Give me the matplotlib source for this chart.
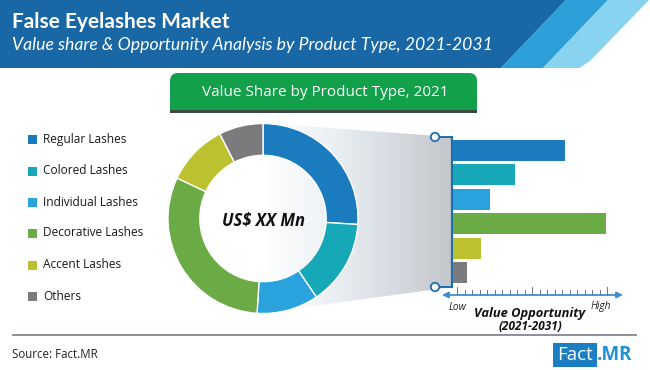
import numpy as np
import matplotlib
matplotlib.use("Agg")
import matplotlib.pyplot as plt
from matplotlib.patches import Polygon, Rectangle, FancyBboxPatch, Circle
from matplotlib.colors import LinearSegmentedColormap

# ---------------- data ----------------
categories = ["Regular Lashes", "Colored Lashes", "Individual Lashes",
              "Decorative Lashes", "Accent Lashes", "Others"]
value_share_2021 = [26.0, 14.5, 10.5, 31.0, 10.5, 7.5]        # % share (donut)
value_opportunity = [112, 62, 37, 153, 28, 14]                 # relative opportunity (bars)
colors = ["#1b7bbf", "#16a8b6", "#2aa2de", "#6aab45", "#bcc22f", "#7b7a7c"]

title = "False Eyelashes Market"
subtitle = "Value share & Opportunity Analysis by Product Type, 2021-2031"
banner = "Value Share by Product Type, 2021"
center_label = "US$ XX Mn"
source = "Source: Fact.MR"

W, H = 650, 370
fig = plt.figure(figsize=(W / 100, H / 100), dpi=100)
fig.patch.set_facecolor("white")

def fx(x):
    return x / W

def fy(y):
    return 1 - y / H

# ------------- background / decoration axes (pixel coords) -------------
ax0 = fig.add_axes([0, 0, 1, 1])
ax0.set_xlim(0, W)
ax0.set_ylim(H, 0)
ax0.axis("off")

# header
ax0.add_patch(Polygon([(0, 0), (566, 0), (501, 68), (0, 68)], closed=True,
                      facecolor="#1967a4", edgecolor="none"))
ax0.add_patch(Polygon([(566, 0), (608, 0), (543, 68), (501, 68)], closed=True,
                      facecolor="#2c9fd8", edgecolor="none"))
ax0.add_patch(Polygon([(608, 0), (649, 0), (590, 61), (579, 68), (543, 68)], closed=True,
                      facecolor="#87d3f0", edgecolor="none"))
ax0.text(12, 28, title, color="white", fontsize=15, fontweight="bold",
         family=["Lato", "DejaVu Sans"], va="baseline", ha="left")
ax0.text(12, 50, subtitle, color="white", fontsize=12.7, style="italic", fontweight="normal",
         family=["Lato", "DejaVu Sans"], va="baseline", ha="left")

# green banner
ax0.add_patch(Rectangle((170, 108), 307, 5, facecolor="#3f4944", edgecolor="none"))
ax0.add_patch(FancyBboxPatch((170, 73), 307, 37, boxstyle="round,pad=0,rounding_size=8",
                             facecolor="#13a04a", edgecolor="none"))
ax0.add_patch(Rectangle((170, 95), 307, 15, facecolor="#13a04a", edgecolor="none"))
ax0.text(325, 92, banner, color="white", fontsize=11,
         family=["Open Sans", "DejaVu Sans"], ha="center", va="center")

# gradient connector (donut -> bars)
poly = Polygon([(263, 123), (452, 137), (452, 287), (263, 313)], closed=True,
               facecolor="none", edgecolor="none")
ax0.add_patch(poly)
cmap = LinearSegmentedColormap.from_list("g", ["#ffffff", "#eef2f6", "#d8dde3", "#c3c6ca"])
grad = np.tile(np.linspace(0, 1, 256), (10, 1))
im = ax0.imshow(grad, cmap=cmap, extent=[263, 452, 313, 123], aspect="auto",
                interpolation="bilinear", zorder=1)
im.set_clip_path(poly)
ax0.set_xlim(0, W)
ax0.set_ylim(H, 0)

# connector line + circles
line_c = "#1f6fae"
ax0.plot([452, 452], [137, 287], color=line_c, lw=1.6, zorder=3)
ax0.plot([439, 452], [137, 137], color=line_c, lw=1.4, zorder=3)
ax0.plot([439, 452], [287, 287], color=line_c, lw=1.4, zorder=3)
for yy in (137, 287):
    ax0.add_patch(Circle((435, yy), 4.2, facecolor="white", edgecolor=line_c, lw=1.3, zorder=4))

# legend
leg_y = [139, 171, 202, 233, 265, 296]
for c, lab, yy in zip(colors, categories, leg_y):
    ax0.add_patch(Rectangle((27.5, yy - 4.5), 9.5, 9.5, facecolor=c, edgecolor="none"))
    ax0.text(43, yy, lab, fontsize=8.6, color="#1a1a1a",
             family=["Open Sans", "DejaVu Sans"], ha="left", va="center")

# value opportunity axis
ax_c = "#3b8fd0"
ax0.annotate("", xy=(623, 295), xytext=(442, 295),
             arrowprops=dict(arrowstyle="<|-|>", color=ax_c, lw=1.3,
                             mutation_scale=9, shrinkA=0, shrinkB=0))
ticks = np.linspace(457, 607, 21)
for i, tx in enumerate(ticks):
    top = 287 if i % 10 == 0 else 290
    ax0.plot([tx, tx], [top, 295], color="#6d7580", lw=0.7)
ax0.text(458, 307, "Low", fontsize=7.3, style="italic", color="#222222",
         family=["Open Sans", "DejaVu Sans"], ha="center", va="center")
ax0.text(601, 307, "High", fontsize=7.3, style="italic", color="#222222",
         family=["Open Sans", "DejaVu Sans"], ha="center", va="center")
ax0.text(530, 314, "Value Opportunity", fontsize=9.3, style="italic", fontweight="bold",
         color="#111111", family=["Open Sans", "DejaVu Sans"], ha="center", va="center")
ax0.text(530, 327, "(2021-2031)", fontsize=8.5, style="italic", fontweight="bold",
         color="#111111", family=["Open Sans", "DejaVu Sans"], ha="center", va="center")

# bottom rule, source, logo
ax0.plot([13, 636], [334.5, 334.5], color="#8a9096", lw=1.4)
ax0.text(12, 355, source, fontsize=8.3, color="#222222",
         family=["Open Sans", "DejaVu Sans"], ha="left", va="center")
ax0.add_patch(Rectangle((553, 343), 44, 24, facecolor="#1b7ec2", edgecolor="none"))
ax0.text(575, 355.5, "Fact", fontsize=13.5, color="white",
         family=["Open Sans", "DejaVu Sans"], ha="center", va="center")
ax0.text(597, 355.5, ".MR", fontsize=13.5, color="#1e90d8", fontweight="bold",
         family=["Open Sans", "DejaVu Sans"], ha="left", va="center")

# ---------------- donut ----------------
cx, cy, R = 263, 218.5, 95
axp = fig.add_axes([fx(cx - R), fy(cy + R), 2 * R / W, 2 * R / H])
axp.pie(value_share_2021, colors=colors, startangle=90, counterclock=False,
        radius=1.0, wedgeprops=dict(width=0.335, edgecolor="white", linewidth=1.0))
axp.set_xlim(-1, 1)
axp.set_ylim(-1, 1)
axp.set_aspect("auto")
axp.axis("off")
axp.text(0, -0.02, center_label, fontsize=12, fontweight="bold", style="italic",
         color="#111111", family=["Open Sans", "DejaVu Sans"], ha="center", va="center")

# ---------------- bars ----------------
bx0, bx1 = 453, 623
by0, by1 = 138, 285
axb = fig.add_axes([fx(bx0), fy(by1), (bx1 - bx0) / W, (by1 - by0) / H])
ypos = np.arange(len(categories))
axb.barh(ypos, value_opportunity, height=0.86, color=colors)
axb.set_xlim(0, bx1 - bx0)
axb.set_ylim(len(categories) - 0.5, -0.5)
axb.axis("off")
axb.patch.set_alpha(0)

fig.savefig("out.png", dpi=100, facecolor="white")
